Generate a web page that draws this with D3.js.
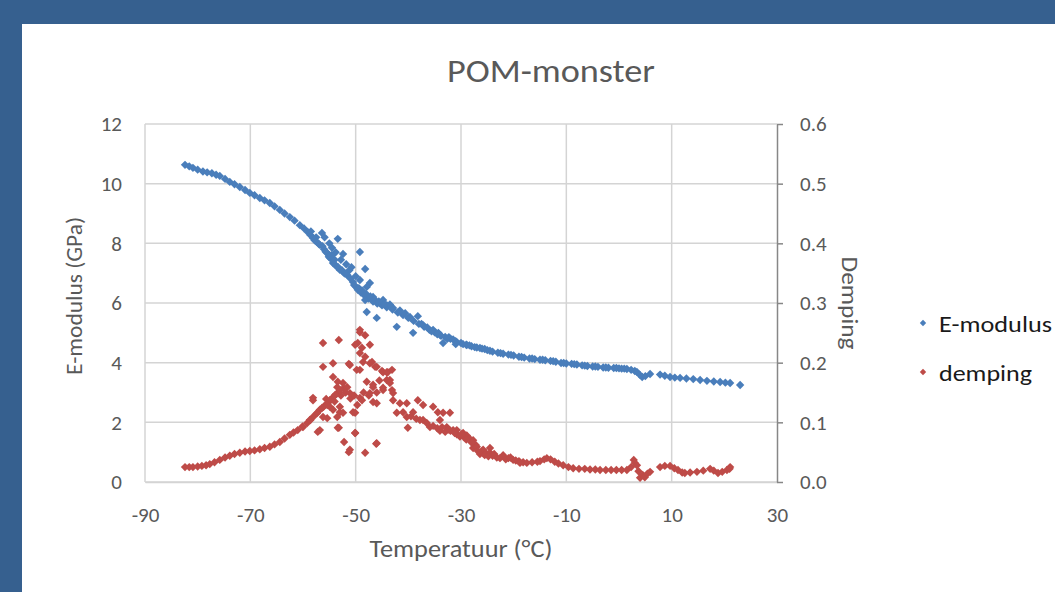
<!DOCTYPE html>
<html><head><meta charset="utf-8">
<script src="https://cdn.jsdelivr.net/npm/d3@7"></script>
<style>
html,body{margin:0;padding:0;background:#36608f;overflow:hidden;}
svg{display:block;}
text{font-family:Calibri,Carlito,Lato,"Open Sans",sans-serif;}
</style></head>
<body>
<svg id="chart" width="1055" height="592"></svg>
<script>
// ---------- data ----------
const chartTitle = "POM-monster";
const xTitle = "Temperatuur (°C)";
const yLeftTitle = "E-modulus (GPa)";
const yRightTitle = "Demping";
const xTicks = [-90, -70, -50, -30, -10, 10, 30];
const yLeftTicks = [0, 2, 4, 6, 8, 10, 12];
const yRightTicks = [0, 0.1, 0.2, 0.3, 0.4, 0.5, 0.6];
const yRightTickLabels = ["0.0", "0.1", "0.2", "0.3", "0.4", "0.5", "0.6"];
const seriesNames = ["E-modulus", "demping"];

// [temperature (°C), E-modulus (GPa)]
const eModulusPoints = [
[-82.4,10.63],[-81.6,10.58],[-80.9,10.53],[-80.0,10.47],[-79.0,10.41],[-78.2,10.38],[-77.3,10.35],[-76.5,10.30],
[-75.8,10.26],[-74.8,10.16],[-73.9,10.06],[-73.0,9.98],[-72.0,9.89],[-71.0,9.79],[-70.1,9.69],[-69.2,9.61],
[-68.2,9.52],[-67.3,9.44],[-66.3,9.35],[-65.4,9.24],[-64.4,9.12],[-63.5,9.00],[-62.5,8.88],[-61.6,8.76],
[-60.6,8.61],[-59.8,8.50],[-59.1,8.38],[-58.6,8.28],[-58.1,8.18],[-57.4,8.05],[-56.8,7.95],[-56.0,7.80],
[-55.4,7.68],[-54.8,7.50],[-54.3,7.34],[-53.6,7.22],[-53.0,7.11],[-52.3,7.02],[-51.6,6.94],[-51.0,6.82],
[-50.5,6.70],[-50.0,6.55],[-49.6,6.44],[-49.0,6.35],[-48.3,6.25],[-47.6,6.15],[-46.7,6.05],[-45.9,5.98],
[-45.0,5.92],[-44.1,5.86],[-43.0,5.78],[-42.0,5.68],[-41.0,5.60],[-40.0,5.50],[-39.0,5.40],[-38.0,5.30],
[-37.0,5.20],[-36.0,5.10],[-35.0,5.02],[-34.0,4.93],[-33.0,4.86],[-32.0,4.80],[-31.0,4.72],[-30.0,4.66],
[-29.0,4.60],[-28.0,4.55],[-27.0,4.51],[-26.0,4.47],[-25.0,4.42],[-24.0,4.37],[-23.0,4.33],[-22.0,4.30],
[-21.0,4.27],[-20.0,4.24],[-19.0,4.20],[-18.0,4.17],[-17.0,4.14],[-16.0,4.12],[-15.0,4.10],[-14.0,4.08],
[-13.0,4.06],[-12.0,4.03],[-11.0,3.99],[-10.0,3.97],[-9.0,3.96],[-8.0,3.94],[-7.0,3.91],[-6.0,3.89],
[-5.0,3.87],[-4.0,3.86],[-3.0,3.84],[-2.0,3.83],[-1.0,3.82],[0.0,3.81],[1.0,3.80],[1.5,3.79],
[2.3,3.76],[3.0,3.72],[3.4,3.69],[3.9,3.60],[4.4,3.52],[5.0,3.55],[5.9,3.62],
[7.8,3.60],[8.7,3.56],[9.7,3.52],[10.6,3.50],[11.6,3.49],[12.8,3.47],[14.1,3.45],[15.4,3.42],
[16.7,3.39],[18.0,3.37],[19.2,3.35],[20.2,3.33],[21.1,3.32],[23.0,3.25],
// scattered points in the transition region
[-56.4,8.35],[-55.9,8.20],[-55.0,8.00],[-54.5,7.85],[-53.4,8.15],[-53.8,7.70],[-52.4,7.64],[-52.8,7.45],
[-51.8,7.30],[-51.2,7.10],[-50.8,7.20],[-49.2,7.71],[-48.2,7.14],[-49.2,6.77],[-47.3,6.67],[-47.9,6.54],
[-46.7,6.20],[-48.2,6.10],[-47.9,5.70],[-46.0,5.50],[-45.4,6.00],[-44.1,5.93],[-42.9,5.83],[-42.2,5.20],
[-40.6,5.66],[-39.7,5.53],[-38.2,5.56],[-39.1,5.00],[-37.2,5.26],[-35.3,5.10],[-33.4,4.66],[-30.8,4.69],
[-28.9,4.59],[-26.4,4.49],[-34.5,4.95],[-32.6,4.80],[-31.0,4.62],[-44.8,6.10],[-43.5,5.95],[-41.6,5.75],
[-50.0,6.90],[-57.5,8.20],[-58.5,8.40],[-55.0,7.60],[-54.0,7.45],
[-50.3,6.60],[-49.4,6.50],[-48.8,6.42],[-48.0,6.30],[-47.2,6.22],[-46.4,6.12],[-45.6,6.05],[-44.5,5.96],
[-57.8,8.10],[-57.0,7.98],[-56.3,7.90],[-55.7,7.72],[-55.1,7.55],[-54.6,7.60],[-54.0,7.30],[-53.3,7.20],
[-52.6,7.10],[-52.0,6.98],[-37.5,5.30],[-36.4,5.18],[-35.6,5.05],[-34.3,5.00],[-33.8,4.90],[-32.3,4.85],
[-31.5,4.78],[-29.6,4.62],[-28.4,4.58],[-27.4,4.52],[-25.5,4.46],[-24.5,4.40],[-22.5,4.32],[-20.5,4.26],
[-18.5,4.19],[-16.5,4.14],[-14.5,4.10],[-12.5,4.05],[-10.5,3.99],[-8.5,3.95],[-6.5,3.90],[-4.5,3.87],
[-2.5,3.84],[-0.5,3.82],[0.5,3.80]
];

// [temperature (°C), demping]
const dempingPoints = [
[-82.4,0.025],[-81.6,0.025],[-80.9,0.025],[-80.0,0.026],[-79.2,0.027],[-78.4,0.028],[-77.7,0.030],[-76.8,0.033],
[-75.8,0.037],[-74.8,0.041],[-73.9,0.044],[-73.0,0.047],[-72.0,0.049],[-71.0,0.051],[-70.1,0.052],[-69.2,0.053],
[-68.2,0.055],[-67.3,0.057],[-66.3,0.059],[-65.4,0.063],[-64.4,0.067],[-63.5,0.073],[-62.5,0.079],[-61.8,0.083],
[-61.0,0.087],[-60.1,0.093],[-59.2,0.099],[-58.6,0.104],[-58.1,0.109],[-57.4,0.115],[-56.8,0.121],[-56.1,0.126],
[-55.4,0.132],[-54.8,0.137],[-54.3,0.142],[-53.6,0.148],[-53.0,0.154],[-52.3,0.157],[-51.6,0.159],
// peak region
[-50.5,0.117],[-55.6,0.139],[-54.9,0.126],[-54.0,0.135],[-53.5,0.159],[-52.4,0.166],[-53.5,0.109],[-55.4,0.107],
[-52.8,0.145],[-51.9,0.150],[-51.0,0.140],[-50.3,0.145],[-56.2,0.233],[-53.2,0.238],[-56.2,0.193],[-54.3,0.199],
[-51.3,0.198],[-58.1,0.141],[-56.8,0.087],[-53.2,0.091],[-52.2,0.067],[-51.3,0.050],[-50.1,0.082],[-48.2,0.049],
[-46.1,0.064],[-49.2,0.141],[-46.7,0.134],[-42.9,0.137],[-48.5,0.150],[-47.5,0.145],[-46.0,0.150],[-45.5,0.170],
[-49.2,0.251],[-48.2,0.246],[-49.6,0.233],[-47.3,0.230],[-49.2,0.216],[-48.6,0.201],[-47.3,0.199],[-46.0,0.193],
[-45.0,0.186],[-44.8,0.184],[-43.1,0.188],[-43.5,0.171],[-49.8,0.188],[-47.9,0.168],[-46.7,0.163],[-44.8,0.158],
[-43.1,0.154],[-44.1,0.171],[-42.9,0.149],[-41.6,0.132],[-40.3,0.132],[-42.2,0.116],[-41.0,0.117],[-38.2,0.137],
[-37.2,0.129],[-39.1,0.117],[-35.3,0.126],[-34.4,0.117],[-32.1,0.116],[-33.4,0.116],[-40.1,0.091],[-37.2,0.104],
[-35.9,0.092],[-34.0,0.104],[-32.7,0.092],[-30.8,0.087],[-29.6,0.082],
[-49.2,0.255],[-50.1,0.230],[-48.8,0.225],[-48.2,0.210],[-51.1,0.196],[-49.2,0.188],[-46.9,0.201],[-46.3,0.193],
[-43.9,0.184],[-54.3,0.176],[-53.4,0.168],[-51.1,0.149],[-53.0,0.154],[-53.9,0.146],[-54.9,0.137],[-55.4,0.129],
[-56.4,0.124],[-58.1,0.137],[-57.3,0.116],[-58.7,0.104],[-60.0,0.092],[-56.2,0.109],[-54.3,0.121],[-53.0,0.126],
[-48.8,0.137],[-49.7,0.129],[-46.7,0.159],[-47.3,0.149],[-46.0,0.132],[-44.8,0.154],[-43.5,0.166],[-44.1,0.184],
[-53.0,0.117],[-52.4,0.116],[-50.1,0.116],[-53.4,0.091],[-50.1,0.082],[-51.1,0.054],[-46.0,0.065],[-57.2,0.084],
// descending band
[-40.3,0.109],[-39.5,0.110],[-38.5,0.106],[-37.8,0.104],[-36.5,0.099],[-35.3,0.094],[-34.5,0.090],[-34.0,0.086],
[-33.0,0.084],[-32.0,0.086],[-31.5,0.087],[-30.8,0.080],[-30.2,0.076],[-29.5,0.076],[-28.9,0.078],[-28.3,0.072],
[-27.7,0.070],[-27.2,0.062],[-27.7,0.057],[-27.0,0.059],[-26.4,0.047],[-26.0,0.052],[-25.8,0.054],[-25.2,0.048],
[-24.5,0.057],[-24.5,0.049],[-24.0,0.044],[-23.2,0.041],[-22.0,0.045],[-21.0,0.040],[-20.1,0.037],[-19.0,0.035],
[-18.2,0.033],[-17.5,0.032],[-16.5,0.033],[-15.5,0.034],[-15.0,0.035],[-14.2,0.038],[-13.7,0.040],[-13.0,0.038],
[-12.2,0.034],[-11.5,0.031],[-10.6,0.028],[-9.6,0.025],[-8.7,0.023],[-7.6,0.022],[-6.5,0.022],[-5.5,0.021],
[-4.5,0.021],[-3.6,0.020],[-2.5,0.020],[-1.5,0.020],[-0.5,0.020],[0.5,0.020],[1.5,0.020],[2.3,0.025],
[2.8,0.037],[3.0,0.032],[3.4,0.028],[3.7,0.018],[4.0,0.007],[4.5,0.012],[4.9,0.008],[5.4,0.014],[5.9,0.017],
[7.8,0.025],[8.7,0.027],[9.7,0.027],[10.5,0.023],[11.2,0.020],[12.0,0.016],[12.5,0.015],[13.5,0.016],
[14.8,0.017],[16.0,0.019],[17.3,0.022],[18.0,0.019],[18.8,0.015],[19.6,0.017],[20.5,0.020],[21.1,0.025],[21.0,0.022],
[-28.0,0.066],[-26.8,0.052],[-25.5,0.045],[-24.8,0.043],[-23.7,0.047],[-22.6,0.040],[-21.5,0.038],[-20.6,0.041],
[-19.6,0.036],[-18.8,0.032],[-33.6,0.092],[-32.4,0.088],[-31.2,0.082],[-29.9,0.080],[-29.0,0.071]
];

// ---------- drawing ----------
const W = 1055, H = 592;
const svg = d3.select("#chart");
const plot = {left:145, right:777, top:124, bottom:482};
const colors = {blue:"#4a7ebb", red:"#be4b48", text:"#595959", grid:"#d4d4d4", axisR:"#878787"};

svg.append("rect").attr("x",22).attr("y",24).attr("width",W).attr("height",H).attr("fill","#ffffff");

const x = d3.scaleLinear().domain([-90,30]).range([plot.left, plot.right]);
const yL = d3.scaleLinear().domain([0,12]).range([plot.bottom, plot.top]);
const yR = d3.scaleLinear().domain([0,0.6]).range([plot.bottom, plot.top]);

// gridlines
const grid = svg.append("g");
grid.selectAll("line.h").data(yLeftTicks).join("line")
  .attr("x1", plot.left).attr("x2", plot.right)
  .attr("y1", d=>yL(d)).attr("y2", d=>yL(d))
  .attr("stroke", colors.grid).attr("stroke-width", 1.5);
grid.selectAll("line.v").data(xTicks.slice(0,-1)).join("line")
  .attr("x1", d=>x(d)).attr("x2", d=>x(d))
  .attr("y1", plot.top).attr("y2", plot.bottom)
  .attr("stroke", colors.grid).attr("stroke-width", 1.5);

// left axis labels (no line, no ticks)
const gL = svg.append("g").attr("transform",`translate(${plot.left},0)`)
  .call(d3.axisLeft(yL).tickValues(yLeftTicks).tickSize(0).tickPadding(23).tickFormat(d=>String(d)));
gL.select(".domain").remove();
gL.selectAll("text").attr("fill",colors.text).attr("font-size",21);

// bottom axis labels
const gB = svg.append("g").attr("transform",`translate(0,${plot.bottom})`)
  .call(d3.axisBottom(x).tickValues(xTicks).tickSize(0).tickPadding(25).tickFormat(d=>String(d)));
gB.select(".domain").attr("stroke",colors.grid).attr("stroke-width",1.5);
gB.selectAll("text").attr("fill",colors.text).attr("font-size",21);

// right axis
const gR = svg.append("g").attr("transform",`translate(${plot.right},0)`)
  .call(d3.axisRight(yR).tickValues(yRightTicks).tickSize(6).tickSizeOuter(0).tickPadding(17)
    .tickFormat((d,i)=>yRightTickLabels[i]));
gR.select(".domain").attr("stroke",colors.axisR).attr("stroke-width",1.5);
gR.selectAll(".tick line").attr("stroke",colors.axisR).attr("stroke-width",1.5);
gR.selectAll("text").attr("fill",colors.text).attr("font-size",21);

// markers
const diamond = (r)=>`M0,${-r}L${r},0L0,${r}L${-r},0Z`;
svg.append("g").selectAll("path").data(eModulusPoints).join("path")
  .attr("d", diamond(4.2))
  .attr("transform", d=>`translate(${x(d[0])},${yL(d[1])})`)
  .attr("fill", colors.blue);
svg.append("g").selectAll("path").data(dempingPoints).join("path")
  .attr("d", diamond(4.2))
  .attr("transform", d=>`translate(${x(d[0])},${yR(d[1])})`)
  .attr("fill", colors.red);

// title
svg.append("text").attr("x",551).attr("y",82).attr("text-anchor","middle")
  .attr("font-size",32).attr("textLength",208).attr("lengthAdjust","spacingAndGlyphs")
  .attr("fill",colors.text).text(chartTitle);

// axis titles
svg.append("text").attr("x",(plot.left+plot.right)/2).attr("y",557).attr("text-anchor","middle")
  .attr("font-size",24).attr("textLength",183).attr("lengthAdjust","spacingAndGlyphs")
  .attr("fill",colors.text).text(xTitle);
svg.append("text").attr("transform","translate(82,296) rotate(-90)").attr("text-anchor","middle")
  .attr("font-size",22).attr("textLength",158).attr("lengthAdjust","spacingAndGlyphs")
  .attr("fill",colors.text).text(yLeftTitle);
svg.append("text").attr("transform","translate(842,303) rotate(90)").attr("text-anchor","middle")
  .attr("font-size",23).attr("textLength",93).attr("lengthAdjust","spacingAndGlyphs")
  .attr("fill",colors.text).text(yRightTitle);

// legend
const legend = svg.append("g");
const legendItems = [{name:seriesNames[0], color:colors.blue, w:113},{name:seriesNames[1], color:colors.red, w:93}];
legend.selectAll("path").data(legendItems).join("path")
  .attr("d", diamond(3.2))
  .attr("transform",(d,i)=>`translate(923,${323+i*49})`)
  .attr("fill", d=>d.color);
legend.selectAll("text").data(legendItems).join("text")
  .attr("x",939).attr("y",(d,i)=>332+i*49)
  .attr("font-size",23).attr("textLength",d=>d.w).attr("lengthAdjust","spacingAndGlyphs")
  .attr("fill","#1a1a1a").text(d=>d.name);
</script>
</body></html>
